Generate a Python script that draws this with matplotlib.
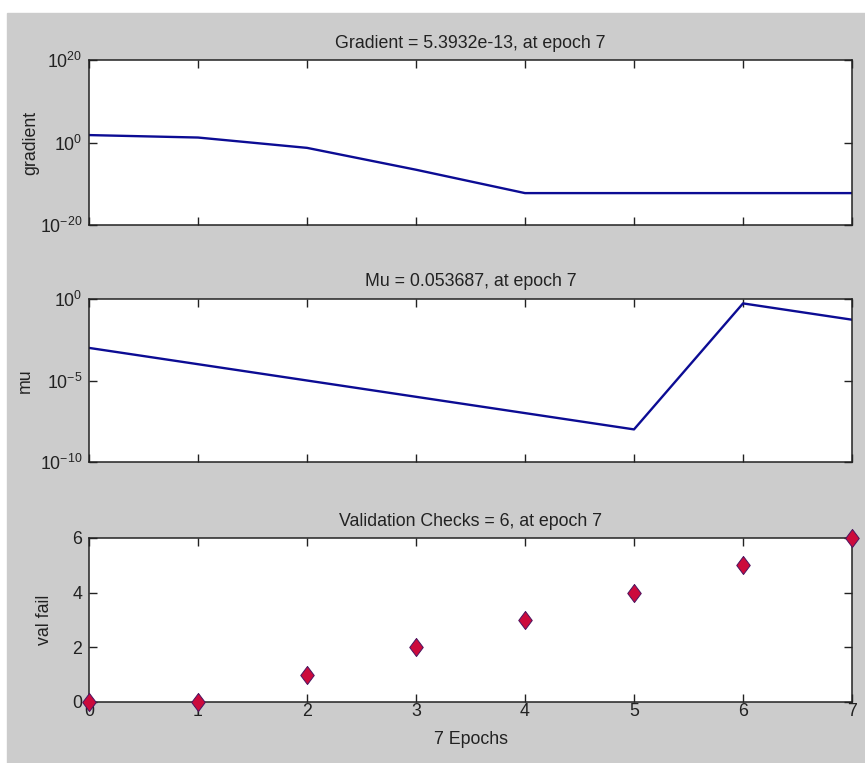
import matplotlib
matplotlib.use('Agg')
import matplotlib.pyplot as plt
import numpy as np

plt.rcParams['font.family'] = ['Liberation Sans', 'DejaVu Sans']
plt.rcParams['mathtext.default'] = 'regular'

# training record
epochs = [0, 1, 2, 3, 4, 5, 6, 7]
gradient = [63, 16, 0.05, 2.5e-7, 5.3932e-13, 5.3932e-13, 5.3932e-13, 5.3932e-13]
mu = [1e-3, 1e-4, 1e-5, 1e-6, 1e-7, 1e-8, 0.53687, 0.053687]
val_fail = [0, 0, 1, 2, 3, 4, 5, 6]

titles = ['Gradient = 5.3932e-13, at epoch 7',
          'Mu = 0.053687, at epoch 7',
          'Validation Checks = 6, at epoch 7']

txt = '#222222'
line_col = '#0c0c94'
fs = 12.8
W, H = 865, 763

fig = plt.figure(figsize=(W / 100, H / 100), dpi=100, facecolor='white')
# grey MATLAB figure panel (white strip at top / left in the screenshot)
fig.patches.append(plt.Rectangle((7 / W, 0), 1 - 7 / W, (H - 13) / H,
                                 transform=fig.transFigure, color='#cccccc', zorder=-10))

left, right = 89, 852
boxes = [(60, 225), (299, 462), (538, 702)]
axs = []
for top, bot in boxes:
    ax = fig.add_axes([left / W, (H - bot) / H, (right - left) / W, (bot - top) / H])
    axs.append(ax)

for ax, t in zip(axs, titles):
    ax.set_xlim(0, 7)
    ax.set_xticks(epochs)
    ax.tick_params(direction='in', top=True, right=True, length=6, width=1,
                   color=txt, labelcolor=txt, labelsize=fs, pad=2)
    ax.tick_params(axis='y', pad=5)
    ax.minorticks_off()
    for s in ax.spines.values():
        s.set_color(txt)
        s.set_linewidth(1.1)
    ax.set_title(t, fontsize=fs, color=txt, pad=9)

# gradient
ax = axs[0]
ax.semilogy(epochs, gradient, color=line_col, lw=1.7)
ax.set_ylim(1e-20, 1e20)
ax.set_yticks([1e-20, 1, 1e20])
ax.minorticks_off()
ax.set_xticklabels([])
ax.set_ylabel('gradient', fontsize=fs, color=txt)
ax.yaxis.set_label_coords(-0.065, 0.5)

# mu
ax = axs[1]
ax.semilogy(epochs, mu, color=line_col, lw=1.7)
ax.set_ylim(1e-10, 1)
ax.set_yticks([1e-10, 1e-5, 1])
ax.minorticks_off()
ax.set_xticklabels([])
ax.set_ylabel('mu', fontsize=fs, color=txt)
ax.yaxis.set_label_coords(-0.072, 0.5)

# validation checks
diamond = [(0, 1), (0.75, 0), (0, -1), (-0.75, 0), (0, 1)]
ax = axs[2]
ax.plot(epochs, val_fail, ls='none', marker=diamond, markersize=13,
        markerfacecolor='#cc0a3c', markeredgecolor='#4a1460', markeredgewidth=0.7,
        clip_on=False, zorder=5)
ax.set_ylim(0, 6)
ax.set_yticks([0, 2, 4, 6])
ax.tick_params(axis='x', pad=1)
ax.set_xlabel('7 Epochs', fontsize=fs, color=txt, labelpad=8)
ax.set_ylabel('val fail', fontsize=fs, color=txt)
ax.yaxis.set_label_coords(-0.047, 0.5)

fig.savefig('out.png', dpi=100, facecolor=fig.get_facecolor())
